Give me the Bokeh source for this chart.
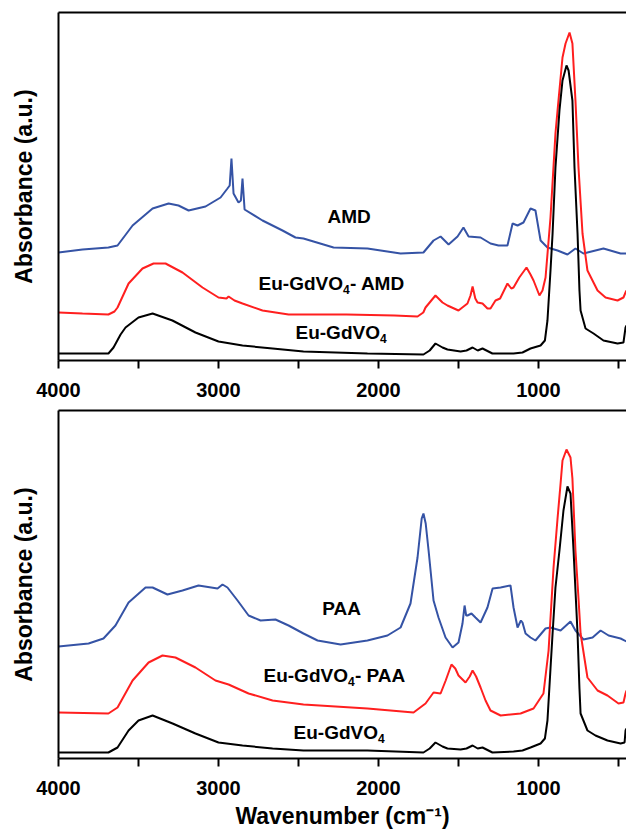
from bokeh.plotting import figure
from bokeh.models import Range1d, FixedTicker, LinearAxis, Label
from bokeh.layouts import column
from bokeh.embed import file_html
from bokeh.resources import INLINE

FONT = "Liberation Sans"
BLUE = "#3553a5"
RED = "#ff1f1f"
BLACK = "#000000"

# ---------------- top panel (AMD) ----------------
top_gdvo_wn = [4000, 3850, 3688, 3656, 3612, 3581, 3500, 3412, 3288, 3144, 3000, 2850, 2662, 2469, 2069,
               1719, 1680, 1644, 1600, 1569, 1487, 1450, 1412, 1380, 1350, 1288, 1156, 1100, 1050, 987,
               960, 944, 925, 912, 894, 869, 850, 825, 812, 788, 775, 756, 744, 737, 706, 656, 594, 506,
               469, 456, 450]
top_gdvo_abs = [7, 7, 7, 13, 26, 33, 43, 47, 40, 28, 19, 15, 12, 9, 7,
                6, 10, 17, 13, 11, 9, 10, 13, 10, 12, 7, 7, 8, 12, 15,
                20, 40, 90, 127, 193, 250, 280, 295, 290, 260, 193, 127, 70, 50, 32, 27, 20, 17,
                18, 33, 35]

top_mix_wn = [4000, 3850, 3688, 3650, 3631, 3562, 3475, 3406, 3331, 3225, 3100, 3000, 2950, 2937, 2900,
              2850, 2725, 2562, 2469, 2200, 1900, 1756, 1720, 1706, 1670, 1644, 1600, 1569, 1500, 1444,
              1425, 1412, 1395, 1381, 1350, 1319, 1300, 1269, 1240, 1194, 1170, 1156, 1120, 1075, 1050,
              1031, 994, 975, 956, 925, 894, 881, 850, 831, 806, 788, 769, 750, 725, 694, 631, 581, 506,
              469, 456, 450]
top_mix_abs = [48, 47, 46, 49, 53, 77, 92, 97, 97, 88, 73, 63, 62, 64, 60,
               57, 50, 46, 46, 46, 45, 44, 48, 53, 60, 65, 58, 55, 50, 57,
               65, 74, 62, 58, 57, 52, 52, 60, 62, 77, 72, 73, 83, 93, 86,
               80, 65, 70, 83, 143, 227, 250, 303, 317, 328, 317, 260, 193, 127, 90, 70, 63, 60,
               63, 68, 70]

amd_wn = [4000, 3850, 3688, 3631, 3537, 3412, 3312, 3250, 3187, 3081, 2987, 2944, 2930, 2919, 2906,
          2875, 2860, 2850, 2837, 2725, 2600, 2519, 2469, 2281, 2069, 1862, 1719, 1656, 1612, 1562,
          1506, 1469, 1437, 1362, 1300, 1250, 1194, 1162, 1131, 1094, 1050, 1019, 987, 944, 881,
          819, 769, 719, 594, 487, 450]
amd_abs = [108, 111, 113, 115, 135, 152, 157, 155, 150, 154, 163, 172, 175, 202, 167,
           158, 160, 182, 151, 140, 130, 123, 122, 113, 112, 107, 108, 120, 124, 116,
           124, 133, 124, 123, 117, 115, 115, 137, 135, 138, 152, 150, 120, 113, 110,
           106, 112, 107, 112, 107, 107]

# ---------------- bottom panel (PAA) ----------------
bot_gdvo_wn = [4000, 3688, 3631, 3562, 3500, 3412, 3287, 3144, 3000, 2850, 2662, 2469, 2069, 1719, 1680,
               1644, 1600, 1569, 1487, 1450, 1412, 1380, 1350, 1288, 1156, 1100, 1050, 987, 960, 944,
               925, 912, 894, 869, 844, 819, 800, 781, 756, 744, 737, 694, 644, 569, 487, 462, 456, 450]
bot_gdvo_abs = [6, 6, 11, 28, 38, 43, 35, 25, 16, 13, 10, 8, 8, 6, 10,
                16, 12, 10, 9, 10, 13, 10, 11, 6, 7, 8, 11, 15, 20, 38,
                90, 125, 171, 208, 248, 272, 265, 208, 125, 70, 45, 28, 23, 18, 15, 16, 28, 30]

bot_mix_wn = [4000, 3688, 3631, 3537, 3437, 3350, 3269, 3144, 3019, 2937, 2812, 2662, 2469, 2069, 1781,
              1706, 1656, 1612, 1580, 1544, 1520, 1500, 1456, 1430, 1412, 1390, 1362, 1331, 1300, 1237,
              1112, 1031, 969, 937, 906, 881, 862, 850, 825, 800, 788, 769, 750, 737, 694, 631, 569, 500,
              469, 456, 450]
bot_mix_abs = [46, 45, 51, 78, 96, 103, 101, 91, 78, 74, 65, 58, 54, 50, 46,
               55, 66, 65, 78, 94, 90, 83, 76, 82, 88, 82, 71, 58, 48, 43,
               45, 50, 65, 108, 191, 240, 275, 298, 309, 301, 280, 208, 160, 125, 81, 68, 63, 55,
               56, 65, 68]

paa_wn = [4000, 3812, 3719, 3644, 3562, 3456, 3412, 3319, 3225, 3125, 3006, 2975, 2944, 2881, 2812,
          2737, 2644, 2562, 2469, 2381, 2237, 2069, 1944, 1862, 1800, 1756, 1730, 1719, 1705, 1687,
          1656, 1625, 1581, 1537, 1500, 1475, 1462, 1452, 1444, 1419, 1394, 1362, 1319, 1287, 1237,
          1175, 1156, 1131, 1110, 1100, 1081, 1050, 1019, 956, 925, 862, 800, 769, 719, 662, 612,
          562, 487, 450]
paa_abs = [112, 115, 120, 133, 156, 171, 171, 164, 168, 173, 170, 174, 171, 158, 143,
           138, 139, 133, 125, 118, 114, 118, 123, 131, 155, 201, 240, 245, 235, 208,
           158, 141, 121, 111, 116, 135, 153, 143, 143, 145, 141, 136, 151, 170, 171,
           173, 151, 131, 138, 136, 125, 121, 118, 130, 131, 128, 137, 128, 119, 121, 128,
           123, 120, 117]

x_major = [4000, 3000, 2000, 1000]
x_minor = [3500, 2500, 1500, 500]


def make_fig(height, top, bottom, xlabel=None):
    p = figure(width=626, height=height, output_backend="svg", toolbar_location=None,
               x_range=Range1d(4000, 450), y_range=Range1d(0, 348),
               min_border_left=58, min_border_right=0, min_border_top=top,
               min_border_bottom=bottom)
    p.grid.visible = False
    p.outline_line_color = None
    p.background_fill_color = "white"
    p.border_fill_color = "white"

    xa = p.xaxis[0]
    xa.ticker = FixedTicker(ticks=x_major, minor_ticks=x_minor)
    xa.axis_line_width = 2
    xa.major_tick_line_width = 2
    xa.minor_tick_line_width = 2
    xa.major_tick_out = 8
    xa.major_tick_in = 0
    xa.minor_tick_out = 8
    xa.minor_tick_in = 0
    xa.major_label_text_font = FONT
    xa.major_label_text_font_style = "bold"
    xa.major_label_text_font_size = "20px"
    xa.major_label_text_color = "black"
    xa.major_label_standoff = 14
    if xlabel:
        xa.axis_label = xlabel
        xa.axis_label_text_font = FONT
        xa.axis_label_text_font_style = "bold"
        xa.axis_label_text_font_size = "23px"
        xa.axis_label_text_color = "black"
        xa.axis_label_standoff = 5

    ya = p.yaxis[0]
    ya.ticker = FixedTicker(ticks=[])
    ya.axis_line_width = 2
    ya.major_tick_line_color = None
    ya.minor_tick_line_color = None
    ya.major_label_text_font_size = "0px"
    ya.major_label_standoff = 0
    ya.axis_label = "Absorbance (a.u.)"
    ya.axis_label_text_font = FONT
    ya.axis_label_text_font_style = "bold"
    ya.axis_label_text_font_size = "23px"
    ya.axis_label_text_color = "black"
    ya.axis_label_standoff = 22

    top_ax = LinearAxis(ticker=FixedTicker(ticks=[]), axis_line_width=2,
                        major_tick_line_color=None, minor_tick_line_color=None,
                        major_label_text_font_size="0px", major_label_standoff=0)
    p.add_layout(top_ax, "above")
    return p


def plain_label(p, x, y, text):
    p.add_layout(Label(x=x, y=y, text=text, text_align="center", text_baseline="middle",
                       text_font=FONT, text_font_style="bold", text_font_size="19px",
                       text_color="black"))


def formula_label(p, x, y, after):
    common = dict(text_font=FONT, text_font_style="bold", text_color="black",
                  text_baseline="middle")
    p.add_layout(Label(x=x, y=y, text="Eu-GdVO", text_align="right",
                       text_font_size="19px", **common))
    p.add_layout(Label(x=x, y=y, y_offset=-6, text="4", text_align="left",
                       text_font_size="12px", **common))
    if after:
        p.add_layout(Label(x=x, y=y, x_offset=7, text=after, text_align="left",
                           text_font_size="19px", **common))


p1 = make_fig(406, 12, 46)
p1.line(amd_wn, amd_abs, line_color=BLUE, line_width=2)
p1.line(top_mix_wn, top_mix_abs, line_color=RED, line_width=2)
p1.line(top_gdvo_wn, top_gdvo_abs, line_color=BLACK, line_width=2)
plain_label(p1, 2184, 144, "AMD")
formula_label(p1, 2222, 77, "- AMD")
formula_label(p1, 1991, 28, None)

p2 = make_fig(429, 4, 77, "Wavenumber (cm\u207b\u00b9)")
p2.line(paa_wn, paa_abs, line_color=BLUE, line_width=2)
p2.line(bot_mix_wn, bot_mix_abs, line_color=RED, line_width=2)
p2.line(bot_gdvo_wn, bot_gdvo_abs, line_color=BLACK, line_width=2)
plain_label(p2, 2231, 150, "PAA")
formula_label(p2, 2191, 83, "- PAA")
formula_label(p2, 2003, 26, None)

layout = column(p1, p2, spacing=0)
open("out.html", "w").write(file_html(layout, INLINE))
